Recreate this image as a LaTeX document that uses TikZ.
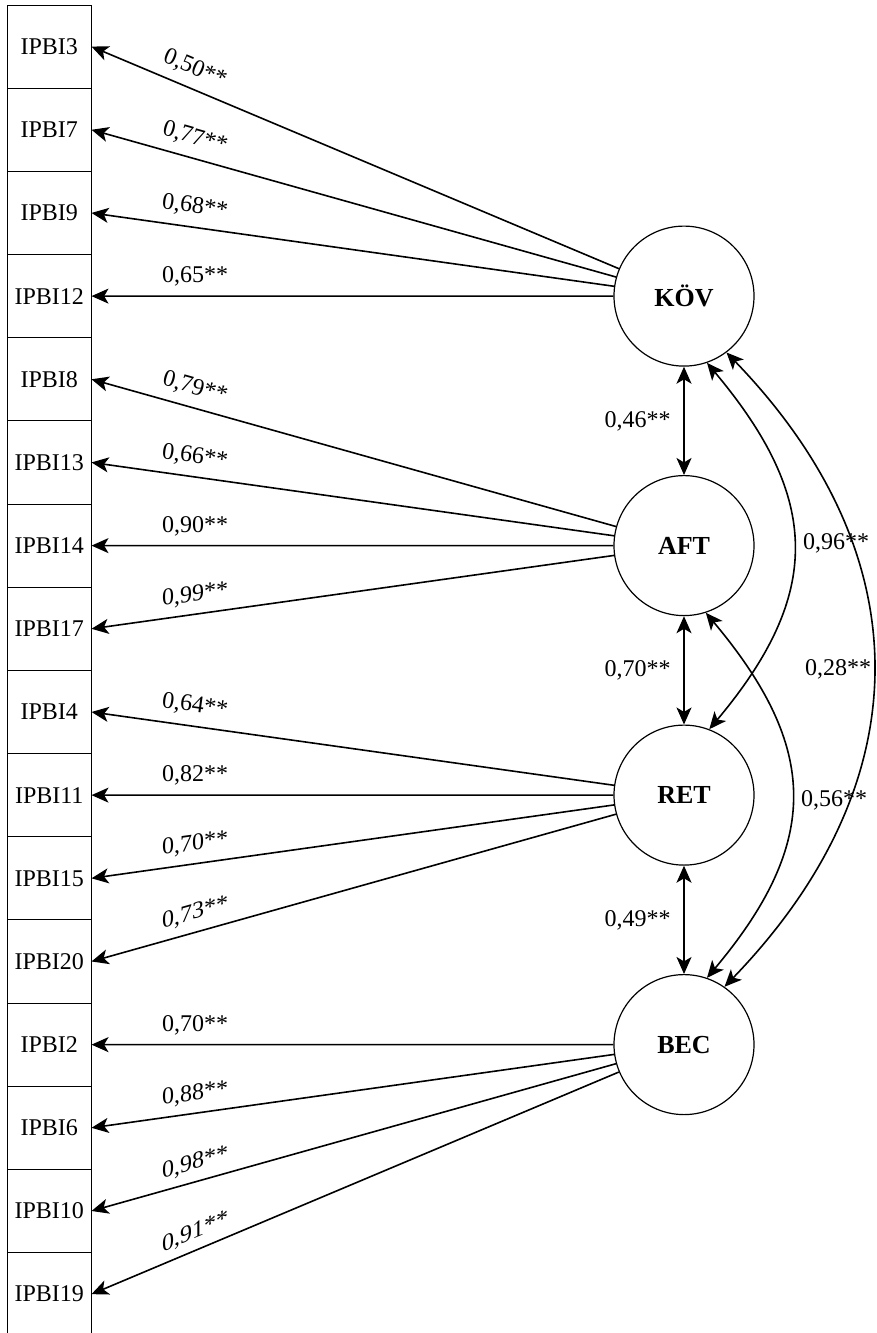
\documentclass[tikz,border=0pt]{standalone}
\usepackage{fontspec}
\setmainfont{Liberation Serif}
\usetikzlibrary{arrows.meta}
\begin{document}
\begin{tikzpicture}[x=0.5pt,y=0.5pt,
  ind/.style={draw, line width=0.5pt, minimum width=41.75pt, minimum height=41.58pt, inner sep=0pt, font=\fontsize{12}{14}\selectfont},
  lat/.style={draw, circle, line width=0.6pt, minimum size=70pt, inner sep=0pt, font=\fontsize{13}{15}\selectfont\bfseries},
  load/.style={line width=0.8pt, -{Stealth[length=8.5pt,width=7.5pt,inset=2.2pt]}},
  cov/.style={line width=0.8pt, {Stealth[length=8.5pt,width=7.5pt,inset=2.2pt]}-{Stealth[length=8.5pt,width=7.5pt,inset=2.2pt]}},
  lbl/.style={inner sep=0pt, font=\fontsize{12}{14}\selectfont}]
\useasboundingbox (0,0) rectangle (877,-1333);
\clip (0,0) rectangle (877,-1333);
% indicator boxes
\foreach \n [count=\i from 0] in {3,7,9,12,8,13,14,17,4,11,15,20,2,6,10,19}
  \node[ind] (b\i) at (49.25,{-(46.6+83.17*\i)}) {IPBI\n};
% latent factors
\node[lat] (kov) at (684,-296.1) {KÖV};
\node[lat] (aft) at (684,-545.6) {AFT};
\node[lat] (ret) at (684,-795.1) {RET};
\node[lat] (bec) at (684,-1044.6) {BEC};
% loadings
\foreach \i in {0,...,3} \draw[load] (kov) -- (b\i.east);
\foreach \i in {4,...,7} \draw[load] (aft) -- (b\i.east);
\foreach \i in {8,...,11} \draw[load] (ret) -- (b\i.east);
\foreach \i in {12,...,15} \draw[load] (bec) -- (b\i.east);
% loading labels
\node[lbl, rotate=-22.85] (l0) at (195,-69) {0,50**};
\node[lbl, rotate=-15.7] (l1) at (195,-138) {0,77**};
\node[lbl, rotate=-8] (l2) at (195,-207) {0,68**};
\node[lbl] (l3) at (195,-276) {0,65**};
\node[lbl, rotate=-15.7] (l4) at (195,-388) {0,79**};
\node[lbl, rotate=-8] (l5) at (195,-457) {0,66**};
\node[lbl] (l6) at (195,-526) {0,90**};
\node[lbl, yslant=0.14] (l7) at (195,-595) {0,99**};
\node[lbl, rotate=-8] (l8) at (195,-706) {0,64**};
\node[lbl] (l9) at (195,-775) {0,82**};
\node[lbl, yslant=0.14] (l10) at (195,-844) {0,70**};
\node[lbl, yslant=0.281] (l11) at (195,-913) {0,73**};
\node[lbl] (l12) at (195,-1025) {0,70**};
\node[lbl, yslant=0.14] (l13) at (195,-1094) {0,88**};
\node[lbl, yslant=0.281] (l14) at (195,-1163) {0,98**};
\node[lbl, yslant=0.421] (l15) at (195,-1232) {0,91**};
% covariances between adjacent factors
\draw[cov] (kov) -- (aft);
\draw[cov] (aft) -- (ret);
\draw[cov] (ret) -- (bec);
\node[lbl, anchor=east] (c1) at (671,-421) {0,46**};
\node[lbl, anchor=east] (c2) at (671,-670) {0,70**};
\node[lbl, anchor=east] (c3) at (671,-920) {0,49**};
% curved covariances
\draw[cov] (kov.-71) .. controls +(-50:177) and +(50:177) .. (ret.69);
\draw[cov] (aft.-72) .. controls +(-50:177) and +(50:177) .. (bec.71);
\draw[cov] (kov.-53) .. controls +(-46:283) and +(46:283) .. (bec.55);
\node[lbl] (c4) at (836,-543) {0,96**};
\node[lbl] (c5) at (838,-669) {0,28**};
\node[lbl] (c6) at (834,-800) {0,56**};
\end{tikzpicture}
\end{document}
